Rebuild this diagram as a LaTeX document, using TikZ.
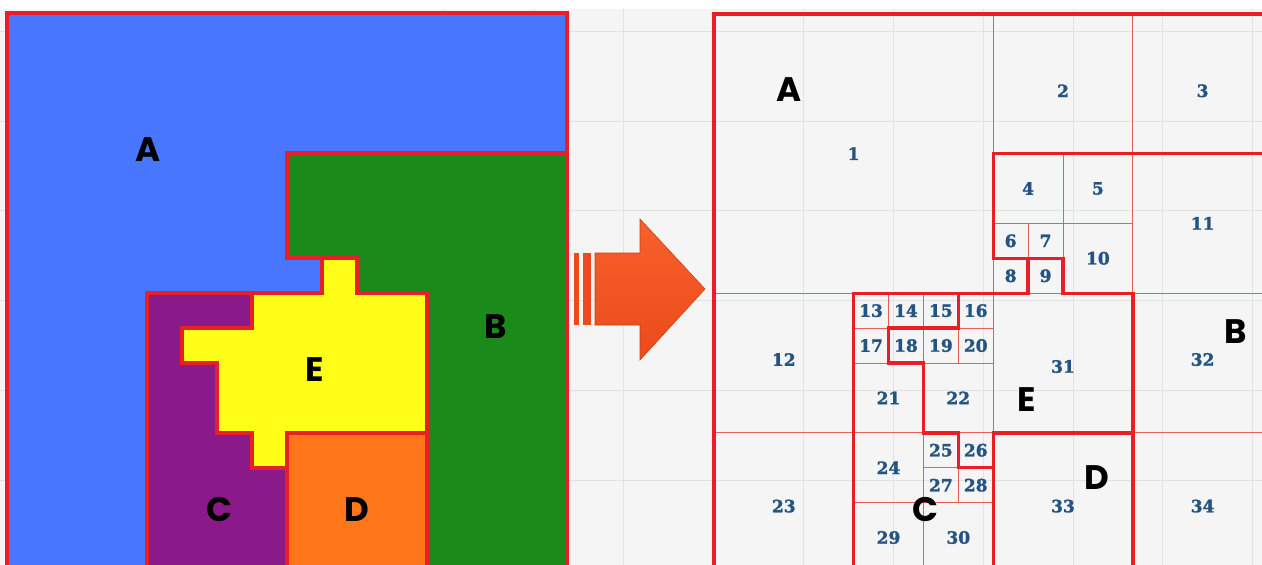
\documentclass[tikz,border=0pt]{standalone}
\usepackage{fontspec}
\setsansfont{Poppins}
\newfontfamily\numfont[BoldFeatures={FakeBold=1.6}]{DejaVu Serif}
\usepackage{xcolor}

\definecolor{regA}{RGB}{72,118,255}
\definecolor{regB}{RGB}{26,138,26}
\definecolor{regC}{RGB}{138,26,138}
\definecolor{regD}{RGB}{255,118,26}
\definecolor{regE}{RGB}{255,255,26}
\definecolor{edge}{RGB}{234,30,38}
\definecolor{thinedge}{RGB}{236,92,86}
\definecolor{numblue}{RGB}{36,84,130}
\definecolor{paper}{RGB}{245,245,245}
\definecolor{gridgray}{RGB}{226,226,226}
\definecolor{arrowtop}{RGB}{248,96,44}
\definecolor{arrowbot}{RGB}{236,74,26}

\begin{document}
\begin{tikzpicture}
  [x=1pt,y=-1pt,
   region/.style={draw=edge,line width=3.2pt,line join=miter},
   cell/.style={draw=thinedge,line width=0.9pt},
   border/.style={draw=edge,line width=3.4pt,line join=miter},
   num/.style={text=numblue,font=\numfont\bfseries\fontsize{17}{17}\selectfont},
   letter/.style={text=black,font=\sffamily\bfseries\fontsize{34}{34}\selectfont}]
  \useasboundingbox (0,0) rectangle (1262,565);
  \clip (0,0) rectangle (1262,565);
  \fill[white] (0,0) rectangle (1262,565);
  \fill[paper] (0,9) rectangle (1262,565);
  \foreach \gx in {443,533,623,713,803,893,983,1073,1162,1252}
    \draw[gridgray] (\gx,9) -- (\gx,565);
  \foreach \gy in {31,121,210,300,390,480}
    \draw[gridgray] (0,\gy) -- (1262,\gy);

  % left: the map
  \begin{scope}[shift={(7pt,-13pt)},x=35pt,y=-35pt]
    \fill[regA] (0,0) rectangle (16,16);
    \fill[regB] (8,4) -- (16,4) -- (16,16) -- (12,16) -- (12,8)
      -- (10,8) -- (10,7) -- (8,7) -- cycle;
    \fill[regC] (4,8) -- (7,8) -- (7,9) -- (5,9) -- (5,10) -- (6,10)
      -- (6,12) -- (7,12) -- (7,13) -- (8,13) -- (8,16) -- (4,16) -- cycle;
    \fill[regD] (8,12) -- (12,12) -- (12,16) -- (8,16) -- cycle;
    \fill[regE] (9,7) -- (10,7) -- (10,8) -- (12,8) -- (12,12)
      -- (8,12) -- (8,13) -- (7,13) -- (7,12) -- (6,12) -- (6,10) -- (5,10)
      -- (5,9) -- (7,9) -- (7,8) -- (9,8) -- cycle;
    % borders on top
    \draw[region] (0,0) rectangle (16,16);
    \draw[region] (16,4) -- (8,4) -- (8,7) -- (9,7) -- (9,8) -- (4,8) -- (4,16);
    \draw[region] (9,7) -- (10,7) -- (10,8) -- (12,8) -- (12,16);
    \draw[region] (7,8) -- (7,9) -- (5,9) -- (5,10) -- (6,10) -- (6,12) -- (7,12)
      -- (7,13) -- (8,13) -- (8,16);
    \draw[region] (8,13) -- (8,12) -- (12,12);
  \end{scope}
  \node[letter] (mapA) at (148,150) {A};
  \node[letter] (mapB) at (496,327) {B};
  \node[letter] (mapC) at (219,510) {C};
  \node[letter] (mapD) at (357,510) {D};
  \node[letter] (mapE) at (315,370) {E};

  % the arrow
  \fill[arrowbot] (574,253) rectangle (579,325);
  \fill[arrowbot] (583,253) rectangle (591,325);
  \shade[top color=arrowtop,bottom color=arrowbot,draw=arrowbot!85!black,line width=0.6pt]
    (595,253) -- (640,253) -- (640,219) -- (705,289) -- (640,360) -- (640,325)
    -- (595,325) -- cycle;

  % right: the cells
  \begin{scope}[shift={(714pt,-14pt)},x=34.9pt,y=-34.9pt]
    \foreach \n/\x/\y/\s/\dy in {1/0/0/8/0, 2/8/0/4/.2, 3/12/0/4/.2, 4/8/4/2/0,
        5/10/4/2/0, 6/8/6/1/0, 7/9/6/1/0, 8/8/7/1/0, 9/9/7/1/0, 10/10/6/2/0,
        11/12/4/4/0, 12/0/8/4/-.1, 13/4/8/1/0, 14/5/8/1/0, 15/6/8/1/0,
        16/7/8/1/0, 17/4/9/1/0, 18/5/9/1/0, 19/6/9/1/0, 20/7/9/1/0,
        21/4/10/2/0, 22/6/10/2/0, 23/0/12/4/.1, 24/4/12/2/0, 25/6/12/1/0,
        26/7/12/1/0, 27/6/13/1/0, 28/7/13/1/0, 29/4/14/2/0, 30/6/14/2/0,
        31/8/8/4/.1, 32/12/8/4/-.1, 33/8/12/4/.1, 34/12/12/4/.1}
    {
      \draw[cell] (\x,\y) rectangle ++(\s,\s);
      \node[num] (c\n) at (\x+\s/2,\y+\s/2+\dy) {\n};
    }
    \draw[border] (0,0) rectangle (16,16);
    \draw[border] (16,4) -- (8,4) -- (8,7) -- (9,7) -- (9,8) -- (4,8) -- (4,16);
    \draw[border] (9,7) -- (10,7) -- (10,8) -- (12,8) -- (12,16);
    \draw[border] (7,8) -- (7,9) -- (5,9) -- (5,10) -- (6,10) -- (6,12) -- (7,12)
      -- (7,13) -- (8,13) -- (8,16);
    \draw[border] (8,13) -- (8,12) -- (12,12);
  \end{scope}
  \node[letter] (cellA) at (789,90) {A};
  \node[letter] (cellB) at (1236,332) {B};
  \node[letter] (cellC) at (925,510) {C};
  \node[letter] (cellD) at (1097,478) {D};
  \node[letter] (cellE) at (1027,400) {E};
\end{tikzpicture}
\end{document}
